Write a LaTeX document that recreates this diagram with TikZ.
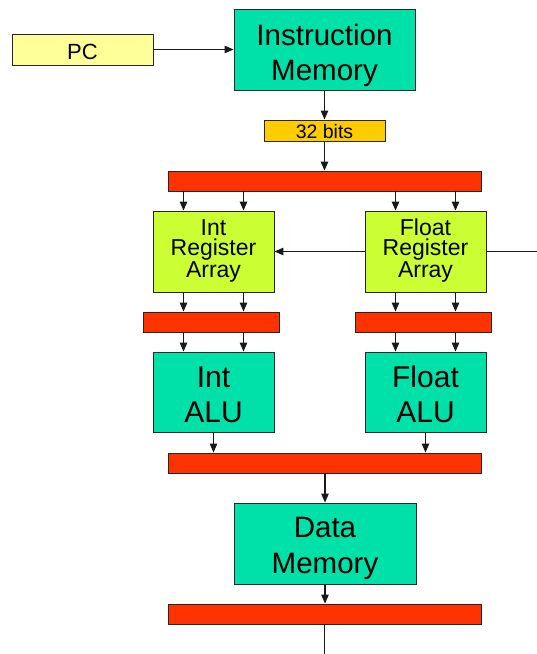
\documentclass[tikz,border=0pt]{standalone}
\usepackage{fontspec}
\setmainfont{Liberation Sans}
\usetikzlibrary{arrows.meta}
\definecolor{teal}{HTML}{00E1A9}
\definecolor{lime}{HTML}{CCFF33}
\definecolor{pcyel}{HTML}{FFFF99}
\definecolor{gold}{HTML}{FFCC00}
\definecolor{busred}{HTML}{FF3300}
\tikzset{
  box/.style={draw=black!85, line width=0.9pt, inner sep=0pt, align=center},
  bigbox/.style={box, fill=teal, minimum width=181pt, minimum height=81pt},
  alubox/.style={box, fill=teal, minimum width=121pt, minimum height=80pt, font=\fontsize{30}{35}\selectfont, text height=64pt, text depth=4pt},
  regbox/.style={box, fill=lime, minimum width=121pt, minimum height=81pt, font=\fontsize{23}{19.5}\selectfont, text height=55pt, text depth=4pt},
  bus/.style={box, fill=busred, minimum height=20pt},
  arr/.style={line width=1.1pt, draw=black!90, -{Triangle[length=9pt,width=7.5pt]}},
  wire/.style={line width=1.1pt, draw=black!90}
}
\begin{document}
\begin{tikzpicture}[x=1pt,y=-1pt]
\useasboundingbox (0,0) rectangle (537,654);
\node[box, fill=pcyel, minimum width=141pt, minimum height=31pt, font=\fontsize{22}{26}\selectfont, text height=19pt, text depth=0pt] (pc) at (82.5,49.5) {PC};
\node[bigbox, font=\fontsize{29.5}{35}\selectfont, text height=65pt, text depth=4pt] (im) at (324.5,49.5) {Instruction\\Memory};
\node[box, fill=gold, minimum width=121pt, minimum height=21pt, font=\fontsize{19.5}{22}\selectfont, text height=15pt, text depth=0pt] (bits) at (324.5,130.5) {32 bits};
\node[bus, minimum width=313pt] (bar1) at (324.5,181) {};
\node[regbox] (intreg) at (213.5,251.5) {Int\\Register\\Array};
\node[regbox] (floatreg) at (425.5,251.5) {Float\\Register\\Array};
\node[bus, minimum width=136pt] (intbar) at (211,322) {};
\node[bus, minimum width=136pt] (floatbar) at (423,322) {};
\node[alubox] (intalu) at (213.5,392) {Int\\ALU};
\node[alubox] (floatalu) at (425.5,392) {Float\\ALU};
\node[bus, minimum width=313pt] (bar3) at (324.5,463) {};
\node[bigbox, minimum width=182pt, font=\fontsize{29.5}{36}\selectfont, text height=63pt, text depth=4pt] (dm) at (325,543.5) {Data\\Memory};
\node[bus, minimum width=313pt] (bar4) at (324.5,614) {};
\coordinate (rightend) at (537,251.5);
\coordinate (bottomend) at (324.5,654);

\draw[arr] (pc) -- (im);
\draw[arr] (im) -- (bits);
\draw[arr] (bits) -- (bar1);
\foreach \n in {intreg,floatreg}{
  \foreach \dx in {-30,30}{
    \draw[arr] ([xshift=\dx pt]\n.north |- bar1.south) -- ([xshift=\dx pt]\n.north);
  }
}
\draw[arr] (floatreg) -- (intreg);
\draw[wire] (floatreg.east) -- (rightend);
\foreach \dx in {-30,30}{
  \draw[arr] ([xshift=\dx pt]intreg.south) -- ([xshift=\dx pt]intreg.south |- intbar.north);
  \draw[arr] ([xshift=\dx pt]floatreg.south) -- ([xshift=\dx pt]floatreg.south |- floatbar.north);
  \draw[arr] ([xshift=\dx pt]intalu.north |- intbar.south) -- ([xshift=\dx pt]intalu.north);
  \draw[arr] ([xshift=\dx pt]floatalu.north |- floatbar.south) -- ([xshift=\dx pt]floatalu.north);
}
\draw[arr] (intalu.south) -- (intalu.south |- bar3.north);
\draw[arr] (floatalu.south) -- (floatalu.south |- bar3.north);
\draw[arr] (bar3.south -| dm.north) -- (dm.north);
\draw[arr] (dm.south) -- (dm.south |- bar4.north);
\draw[wire] (bar4.south -| bottomend) -- (bottomend);
\end{tikzpicture}
\end{document}
